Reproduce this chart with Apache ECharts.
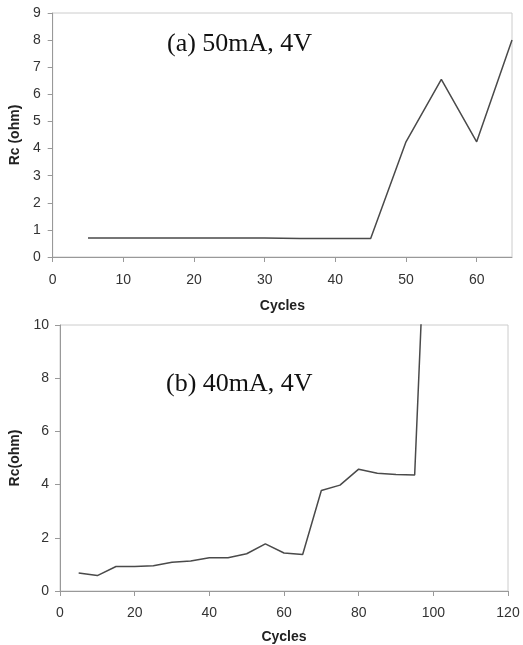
<!DOCTYPE html>
<html>
<head>
<meta charset="utf-8">
<script src="https://cdn.jsdelivr.net/npm/echarts@6/dist/echarts.min.js"></script>
<style>
  html, body { margin: 0; padding: 0; background: #fff; }
  #chart { width: 523px; height: 645px; }
</style>
</head>
<body>
<div id="chart"></div>
<script>
// (a) 50mA, 4V
const cyclesA = [5, 10, 15, 20, 25, 30, 35, 40, 45, 50, 55, 60, 65];
const rcA = [0.70, 0.70, 0.70, 0.70, 0.70, 0.70, 0.68, 0.68, 0.68, 4.25, 6.55, 4.25, 8.0];

// (b) 40mA, 4V
const cyclesB = [5, 10, 15, 20, 25, 30, 35, 40, 45, 50, 55, 60, 65, 70, 75, 80, 85, 90, 95, 100];
const rcB = [0.68, 0.58, 0.92, 0.92, 0.95, 1.08, 1.13, 1.25, 1.25, 1.40, 1.77, 1.43, 1.37, 3.78, 3.98, 4.58, 4.43, 4.38, 4.36, 21];

const labelA = '(a) 50mA, 4V';
const labelB = '(b) 40mA, 4V';

function pairs(xs, ys) {
    let out = [];
    for (let i = 0; i < xs.length; i++) {
        out.push([xs[i], ys[i]]);
    }
    return out;
}

const axisFont = { fontFamily: 'Liberation Sans, Arial', fontSize: 14, color: '#333' };
const nameFont = { fontFamily: 'Liberation Sans, Arial', fontSize: 14, fontWeight: 'bold', color: '#222' };
const axisLine = { show: true, lineStyle: { color: '#999', width: 1 } };
const axisTick = { show: true, inside: false, length: 5, lineStyle: { color: '#999' } };

let dom = document.getElementById('chart');
let myChart = echarts.init(dom, null, { renderer: 'canvas' });

let option = {
    animation: false,
    backgroundColor: '#fff',
    grid: [
        { left: 51, right: 11, top: 13, height: 244, show: true, borderColor: '#ccc', borderWidth: 1 },
        { left: 60, right: 15, top: 325, height: 267, show: true, borderColor: '#ccc', borderWidth: 1 }
    ],
    xAxis: [
        {
            gridIndex: 0, type: 'value', min: 0, max: 65, interval: 10,
            name: 'Cycles', nameLocation: 'middle', nameGap: 42, nameTextStyle: nameFont,
            axisLine: axisLine, axisTick: axisTick, splitLine: { show: false },
            axisLabel: Object.assign({ margin: 16, showMaxLabel: false }, axisFont)
        },
        {
            gridIndex: 1, type: 'value', min: 0, max: 120, interval: 20,
            name: 'Cycles', nameLocation: 'middle', nameGap: 39, nameTextStyle: nameFont,
            axisLine: axisLine, axisTick: axisTick, splitLine: { show: false },
            axisLabel: Object.assign({ margin: 15 }, axisFont)
        }
    ],
    yAxis: [
        {
            gridIndex: 0, type: 'value', min: 0, max: 9, interval: 1,
            name: 'Rc (ohm)', nameLocation: 'middle', nameGap: 27, nameTextStyle: nameFont,
            axisLine: axisLine, axisTick: axisTick, splitLine: { show: false },
            axisLabel: Object.assign({ margin: 12 }, axisFont)
        },
        {
            gridIndex: 1, type: 'value', min: 0, max: 10, interval: 2,
            name: 'Rc(ohm)', nameLocation: 'middle', nameGap: 34, nameTextStyle: nameFont,
            axisLine: axisLine, axisTick: axisTick, splitLine: { show: false },
            axisLabel: Object.assign({ margin: 11 }, axisFont)
        }
    ],
    series: [
        {
            type: 'line', xAxisIndex: 0, yAxisIndex: 0,
            data: pairs(cyclesA, rcA), showSymbol: false, symbol: 'none',
            lineStyle: { color: '#4a4a4a', width: 1.5 }, clip: true
        },
        {
            type: 'line', xAxisIndex: 1, yAxisIndex: 1,
            data: pairs(cyclesB, rcB), showSymbol: false, symbol: 'none',
            lineStyle: { color: '#4a4a4a', width: 1.5 }, clip: true
        }
    ],
    graphic: [
        {
            type: 'text', left: 167, top: 31,
            style: { text: labelA, font: '26px "Liberation Serif", "Times New Roman", serif', fill: '#111' }
        },
        {
            type: 'text', left: 166, top: 371,
            style: { text: labelB, font: '26px "Liberation Serif", "Times New Roman", serif', fill: '#111' }
        }
    ]
};

myChart.setOption(option);
</script>
</body>
</html>
